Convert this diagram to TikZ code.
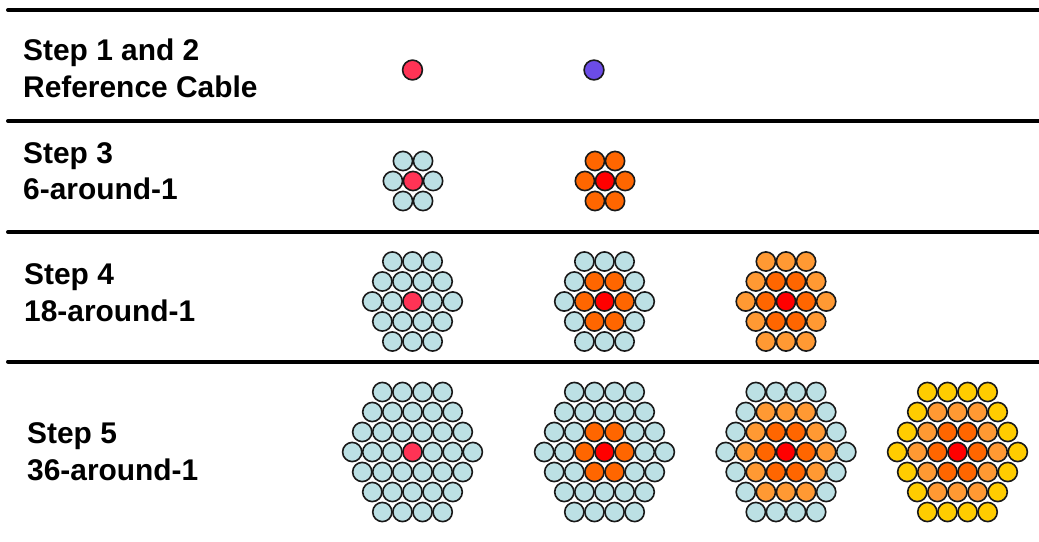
\documentclass[tikz,border=0pt]{standalone}
\usepackage{fontspec}
\setmainfont{Liberation Sans}
\definecolor{strandblue}{HTML}{BCE0E4}
\definecolor{corepink}{HTML}{FF3355}
\definecolor{corepurple}{HTML}{6B4CE6}
\definecolor{corered}{HTML}{FF0000}
\definecolor{darkorange}{HTML}{FF6600}
\definecolor{lightorange}{HTML}{FF9933}
\definecolor{stranyellow}{HTML}{FFCC00}

% hexagonal bundle: centre x, centre y, number of rings around the core;
% each strand is filled by the style ring<d>, d = its ring number
\newcommand\cablebundle[3]{%
  \foreach \r in {-#3,...,#3} {
    \pgfmathtruncatemacro\m{2*#3-abs(\r)}
    \foreach \i in {0,...,\m} {
      \pgfmathsetmacro\xx{\i-\m/2}
      \pgfmathtruncatemacro\dd{round((abs(\xx-\r/2)+abs(\r)+abs(\xx+\r/2))/2)}
      \draw[strand, ring\dd] ({#1+20.1*\xx},{#2+20*\r}) circle[radius=9.6pt];
    }
  }%
}

\begin{document}
\begin{tikzpicture}[x=1pt,y=-1pt,
  rule/.style={line width=4pt, line cap=round},
  steplabel/.style={anchor=base west, inner sep=0pt,
    font=\fontsize{29.9}{36}\selectfont\bfseries},
  strand/.style={draw=black!90, line width=1.6pt},
  ring0/.style={fill=strandblue}, ring1/.style={fill=strandblue},
  ring2/.style={fill=strandblue}, ring3/.style={fill=strandblue}]

\useasboundingbox (0,0) rectangle (1039,541);

% separating rules
\coordinate (r0a) at (8,10);    \coordinate (r0b) at (1041,10);
\coordinate (r1a) at (8,121);   \coordinate (r1b) at (1041,121);
\coordinate (r2a) at (8,232);   \coordinate (r2b) at (1041,232);
\coordinate (r3a) at (8,361.5); \coordinate (r3b) at (1041,361.5);
\draw[rule] (r0a) -- (r0b);
\draw[rule] (r1a) -- (r1b);
\draw[rule] (r2a) -- (r2b);
\draw[rule] (r3a) -- (r3b);

% row labels
\node[steplabel] (s1a) at (23,60) {Step 1 and 2};
\node[steplabel] (s1b) at (23,97.3) {Reference Cable};
\node[steplabel] (s3a) at (23,163) {Step 3};
\node[steplabel] (s3b) at (23,199.5) {6-around-1};
\node[steplabel] (s4a) at (24,284) {Step 4};
\node[steplabel] (s4b) at (24,321.5) {18-around-1};
\node[steplabel] (s5a) at (27,443.3) {Step 5};
\node[steplabel] (s5b) at (27,480.7) {36-around-1};

% steps 1 and 2: single reference strands
\draw[strand, fill=corepink] (412.5,70) circle[radius=9.9pt];
\draw[strand, fill=corepurple] (594,70) circle[radius=9.9pt];

% step 3
\begin{scope}[ring0/.style={fill=corepink}]
  \cablebundle{413}{181}{1}
\end{scope}
\begin{scope}[ring0/.style={fill=corered}, ring1/.style={fill=darkorange}]
  \cablebundle{605}{181}{1}
\end{scope}

% step 4
\begin{scope}[ring0/.style={fill=corepink}]
  \cablebundle{412.5}{301.5}{2}
\end{scope}
\begin{scope}[ring0/.style={fill=corered}, ring1/.style={fill=darkorange}]
  \cablebundle{604.5}{301.5}{2}
\end{scope}
\begin{scope}[ring0/.style={fill=corered}, ring1/.style={fill=darkorange},
              ring2/.style={fill=lightorange}]
  \cablebundle{786}{301.5}{2}
\end{scope}

% step 5
\begin{scope}[ring0/.style={fill=corepink}]
  \cablebundle{412.5}{452}{3}
\end{scope}
\begin{scope}[ring0/.style={fill=corered}, ring1/.style={fill=darkorange}]
  \cablebundle{604.5}{452}{3}
\end{scope}
\begin{scope}[ring0/.style={fill=corered}, ring1/.style={fill=darkorange},
              ring2/.style={fill=lightorange}]
  \cablebundle{786}{452}{3}
\end{scope}
\begin{scope}[ring0/.style={fill=corered}, ring1/.style={fill=darkorange},
              ring2/.style={fill=lightorange}, ring3/.style={fill=stranyellow}]
  \cablebundle{957.5}{452}{3}
\end{scope}

\end{tikzpicture}
\end{document}
